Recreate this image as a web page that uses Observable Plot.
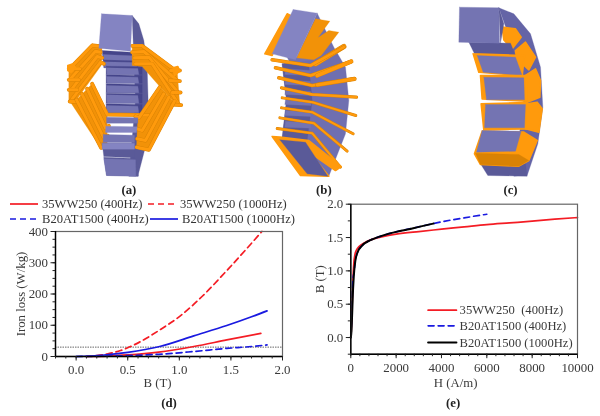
<!DOCTYPE html>
<html><head><meta charset="utf-8">
<script src="https://cdn.jsdelivr.net/npm/d3@7"></script>
<script src="https://cdn.jsdelivr.net/npm/@observablehq/plot@0.6"></script>
<style>
html,body{margin:0;padding:0;background:#fff;width:600px;height:416px;overflow:hidden;font-family:"Liberation Serif",serif;color:#333}
#page{position:relative;width:600px;height:416px;filter:blur(0.3px)}
#page>div{position:absolute}
.lg{position:absolute;display:flex;align-items:center;font-size:12.6px;white-space:nowrap;height:15px}
.lg svg{margin-right:4px;flex:none}
</style></head><body>
<div id="page">
<div id="art" style="left:0;top:0"></div>
<div id="legendD" style="left:0;top:197px;width:300px;height:29px"></div>
<div id="chartD" style="left:0;top:226px"></div>
<div id="chartE" style="left:300px;top:197px"></div>
</div>
<script>
// ---- Panel (d): iron loss vs B
const wwB400=[0.1,0.3,0.5,0.8,1.14,1.46,1.79];
const wwL400=[0,1.5,5,14,32,53,74];
const wwB1000=[0.1,0.2,0.3,0.43,0.62,0.81,1.01,1.22,1.48,1.8];
const wwL1000=[0,3,8,19,47,85,130,192,282,400];
const atB400=[0,0.25,0.5,0.8,1.14,1.46,1.7,1.85];
const atL400=[0,1,3,7,16,26,32,37];
const atB1000=[0,0.25,0.5,0.81,1.14,1.46,1.7,1.85];
const atL1000=[0,4,13,32,66,99,127,146];
// ---- Panel (e): B-H curves
const wwH=[0,20,40,60,80,100,130,180,250,350,500,700,1000,1500,2000,3000,4000,5000,6000,7000,8000,9000,10000];
const wwT=[0,0.1,0.3,0.5,0.7,0.9,1.1,1.24,1.31,1.36,1.4,1.44,1.48,1.52,1.55,1.59,1.625,1.66,1.695,1.72,1.745,1.775,1.8];
const at4H=[0,40,90,150,200,300,500,800,1000,2000,3000,3650,4000,5000,6000];
const at4T=[0,0.3,0.85,1.0,1.15,1.28,1.38,1.45,1.48,1.585,1.66,1.71,1.735,1.795,1.85];
const at10H=[0,30,60,90,120,150,200,300,500,800,1000,1500,2000,2500,3000,3650];
const at10T=[0,0.1,0.35,0.65,0.85,1.0,1.15,1.28,1.38,1.45,1.48,1.54,1.585,1.62,1.66,1.71];
const zip=(a,b)=>a.map((v,i)=>[v,b[i]]);
const serif="Liberation Serif";
const C={red:"#f41c24",blue:"#1a1ae0",black:"#000",ink:"#3a3a3a"};
const dash="6,4";

const lossSeries=[[wwB400,wwL400,C.red,null],[wwB1000,wwL1000,C.red,dash],[atB400,atL400,C.blue,dash],[atB1000,atL1000,C.blue,null]];
const lossLegend=[["35WW250 (400Hz)",C.red,null,10,204],["35WW250 (1000Hz)",C.red,dash,148,204],["B20AT1500 (400Hz)",C.blue,dash,10,219],["B20AT1500 (1000Hz)",C.blue,null,150,219]];

// legend of (d)
const lgEl=document.getElementById("legendD");
for(const [label,col,d,x,y] of lossLegend){
  const e=document.createElement("div");e.className="lg";e.style.left=x+"px";e.style.top=(y-197-7.5)+"px";
  e.innerHTML=`<svg width="28" height="6"><line x1="0" x2="28" y1="3" y2="3" stroke="${col}" stroke-width="1.7" ${d?`stroke-dasharray="${d}"`:""}/></svg><span>${label}</span>`;
  lgEl.appendChild(e);
}

function axes(xMajor,xMinor,yMajor,yMinor,xfmt,yfmt,xr,yr){
  return [
    Plot.frame({stroke:"#666",strokeWidth:1.2}),
    Plot.ruleX([xr],{stroke:"#000",strokeWidth:1.4}),
    Plot.ruleY([yr],{stroke:"#000",strokeWidth:1.4}),
    Plot.axisX({ticks:xMinor,tickSize:2.5,tickFormat:()=>"",label:null,stroke:"#222"}),
    Plot.axisY({ticks:yMinor,tickSize:2.5,tickFormat:()=>"",label:null,stroke:"#222"}),
    Plot.axisX({ticks:xMajor,tickSize:4.5,tickFormat:xfmt,label:null,tickPadding:4,fontSize:12.9,fill:C.ink,stroke:"#222"}),
    Plot.axisY({ticks:yMajor,tickSize:4.5,tickFormat:yfmt,label:null,tickPadding:3,fontSize:12.9,fill:C.ink,stroke:"#222"})
  ];
}
const label=(t,o)=>Plot.text([t],{text:d=>d,fontSize:12.8,fill:C.ink,lineAnchor:"middle",textAnchor:"middle",...o});

// chart (d)
const dTicksX=[0,0.5,1,1.5,2], dMinorX=d3.range(-2,21).map(v=>v/10);
const dTicksY=[0,100,200,300,400], dMinorY=d3.range(0,401,25);
document.getElementById("chartD").append(Plot.plot({
  width:300,height:190,marginLeft:55,marginRight:18,marginTop:5,marginBottom:60,
  style:{fontFamily:serif,background:"transparent",overflow:"visible"},
  x:{domain:[-0.2,2],label:null,axis:null},
  y:{domain:[0,400],label:null,axis:null},
  marks:[
    Plot.ruleY([30],{stroke:"#666",strokeDasharray:"1.5,1",strokeWidth:1}),
    ...lossSeries.map(([b,l,c,d])=>Plot.line(zip(b,l),{x:p=>p[0],y:p=>p[1],stroke:c,strokeWidth:1.7,strokeDasharray:d,curve:"monotone-x"})),
    ...axes(dTicksX,dMinorX,dTicksY,dMinorY,d3.format(".1f"),d3.format("d"),-0.2,0),
    label("B (T)",{frameAnchor:"bottom",dy:26.5,dx:-11.5}),
    label("Iron loss (W/kg)",{frameAnchor:"left",dx:-35,rotate:-90}),
    label("(d)",{frameAnchor:"bottom",dy:46.5,fontWeight:"bold",fill:"#222"})
  ]
}));

// chart (e)
const eTicksX=[0,2000,4000,6000,8000,10000], eMinorX=d3.range(0,10001,400);
const eTicksY=[0,0.5,1,1.5,2], eMinorY=[-0.25,0,0.25,0.5,0.75,1,1.25,1.5,1.75,2];
const bhSeries=[[wwH,wwT,C.red,null,1.7],[at4H,at4T,C.blue,dash,1.6],[at10H,at10T,C.black,null,2]];
const bhLegend=[["35WW250  (400Hz)",C.red,null,1.7,0.41],["B20AT1500 (400Hz)",C.blue,dash,1.6,0.175],["B20AT1500 (1000Hz)",C.black,null,2,-0.075]];
document.getElementById("chartE").append(Plot.plot({
  width:300,height:219,marginLeft:50.3,marginRight:23,marginTop:6.7,marginBottom:62.3,
  style:{fontFamily:serif,background:"transparent",overflow:"visible"},
  x:{domain:[0,10000],label:null,axis:null},
  y:{domain:[-0.25,2],label:null,axis:null},
  marks:[
    ...bhSeries.map(([h,t,c,d,w])=>Plot.line(zip(h,t),{x:p=>p[0],y:p=>p[1],stroke:c,strokeWidth:w,strokeDasharray:d,curve:"monotone-x"})),
    ...bhLegend.map(([lab,c,d,w,yv])=>Plot.line([[3410,yv],[4660,yv]],{x:p=>p[0],y:p=>p[1],stroke:c,strokeWidth:w,strokeDasharray:d})),
    Plot.text(bhLegend,{x:()=>4800,y:d=>d[4],text:d=>d[0],textAnchor:"start",lineAnchor:"middle",fontSize:12.6,fill:C.ink}),
    ...axes(eTicksX,eMinorX,eTicksY,eMinorY,d3.format("d"),d3.format(".1f"),0,-0.25),
    label("H (A/m)",{frameAnchor:"bottom",dy:29,dx:-8.6}),
    label("B (T)",{frameAnchor:"left",dx:-31,rotate:-90,dy:0}),
    label("(e)",{frameAnchor:"bottom",dy:49,dx:-11,fontWeight:"bold",fill:"#222"})
  ]
}));

// ---- Illustrations (a), (b), (c): schematic shapes in picture units (3 per pixel)
const V1="#8484c2",V2="#7474b2",V3="#5a5a98",V4="#45458a",O1="#ff9a0c",O2="#d98204",O3="#f29208";
const poly=(c,...p)=>({c,p});
const wire=(w,...p)=>({c:O1,w,p});
const shift=(list,dx,dy)=>list.map(s=>({...s,p:s.p.map(([x,y])=>[x+dx,y+dy])}));
const teethA=[[112,132],[138,158],[165,187],[193,218],[225,247]];
const artA=shift([
  poly(V3,[215,-45],[235,-20],[250,30],[260,110],[264,250],[252,360],[232,437],[205,437],[225,210]),
  poly(V4,[125,60],[212,65],[232,112],[130,112]),
  poly(V2,[128,72],[215,76],[222,90],[130,88]),
  poly(V2,[130,94],[224,96],[230,112],[132,110]),
  ...teethA.map(([a,b])=>poly(V4,[137,a-5],[245,a-3],[245,b],[137,b])),
  ...teethA.map(([a,b])=>poly(V2,[138,a],[232,a+2],[235,b],[140,b])),
  poly(O3,[95,40],[25,110],[25,216],[48,208],[122,105],[125,45]),
  poly(O3,[30,215],[122,355],[140,345],[140,252],[95,160],[48,208]),
  poly(O3,[245,42],[350,120],[358,225],[330,205],[245,108],[215,105],[215,45]),
  poly(O3,[345,215],[265,360],[228,352],[232,258],[300,170],[330,205]),
  wire(9,[120,47],[95,45],[30,112]),wire(9,[120,65],[105,62],[30,145]),wire(9,[125,82],[110,78],[32,178]),wire(9,[130,100],[120,95],[30,212]),
  wire(9,[25,115],[58,115]),wire(9,[25,148],[55,148]),wire(9,[25,178],[50,178]),wire(9,[28,213],[48,213]),
  wire(9,[48,208],[122,352],[140,345]),wire(9,[64,190],[130,322],[142,316]),wire(9,[80,175],[135,292],[145,286]),wire(9,[95,160],[140,252],[270,254]),
  wire(9,[215,46],[245,46],[345,120]),wire(9,[215,65],[250,63],[350,150]),wire(9,[222,82],[265,80],[352,185]),wire(9,[225,100],[275,100],[355,222]),
  wire(9,[330,120],[358,120]),wire(9,[328,150],[358,152]),wire(9,[335,186],[360,186]),wire(9,[335,222],[362,224]),
  wire(9,[342,212],[265,358],[228,350]),wire(9,[325,200],[255,330],[230,325]),wire(9,[310,190],[245,300],[230,295]),wire(9,[298,170],[235,262],[225,258]),
  poly(O1,[22,105],[38,100],[45,112],[32,125],[22,120]),poly(O1,[338,112],[352,108],[358,122],[342,135]),
  poly(V2,[138,260],[232,262],[232,278],[138,278]),
  poly(V1,[136,287],[230,289],[228,306],[135,306]),
  poly(V2,[128,312],[222,314],[222,336],[128,336]),
  poly(V3,[125,338],[222,338],[222,382],[130,378]),
  poly(V1,[125,338],[222,338],[222,356],[125,356]),
  poly(V3,[130,380],[225,384],[234,437],[138,435]),
  poly(V2,[130,385],[225,388],[226,437],[138,435]),
  poly(V1,[123,-50],[215,-45],[210,62],[115,53])
],180,90);
const artB=[
  poly("#6f6fb0",[950,38],[1000,140],[1035,200],[1045,300],[1035,400],[985,527],[920,520],[845,420],[858,300],[845,190],[885,178]),
  poly(V3,[845,190],[925,195],[935,300],[920,420],[845,410],[858,300]),
  ...[[205,222],[238,252],[268,282],[298,312],[330,345],[362,380]].map(([a,b])=>poly(V2,[855,a],[930,a+5],[932,b+3],[853,b])),
  poly(V2,[860,170],[920,172],[935,178],[870,190]),
  poly(O3,[945,55],[988,62],[952,112],[985,90],[1015,95],[962,165],[940,178],[888,172]),
  wire(13,[945,190],[1030,138]),
  wire(8,[815,178],[930,195],[1030,140]),wire(8,[825,202],[930,225],[1052,183]),wire(11,[950,225],[1052,183]),wire(8,[835,232],[935,255],[1062,235]),wire(10,[950,253],[1062,235]),wire(7,[843,262],[935,282],[1068,290]),
  wire(6,[845,292],[935,305],[1066,345]),wire(6,[843,322],[935,335],[1058,400]),wire(6,[838,352],[940,368],[1040,452]),wire(6,[830,384],[935,398],[1020,500]),
  poly(O1,[860,40],[870,45],[815,165],[793,160]),
  poly(V1,[878,27],[950,38],[885,178],[815,160]),
  poly(O1,[815,408],[838,410],[925,420],[1022,498],[1005,510],[930,458],[985,527],[900,525]),
  poly(V3,[838,418],[915,425],[982,527],[920,520])
];
const artC=shift([
  poly("#6464a6",[295,22],[340,40],[390,100],[420,200],[427,320],[412,430],[380,525],[340,527],[370,300],[330,120]),
  poly(V3,[240,490],[375,490],[380,527],[262,525]),
  poly(O1,[305,80],[345,85],[362,110],[335,145],[310,118]),
  poly(O1,[345,150],[375,125],[405,170],[385,208],[345,170]),
  poly(O1,[375,225],[405,205],[420,240],[418,290],[380,305]),
  poly(O1,[380,310],[410,305],[425,325],[415,395],[375,385]),
  poly(V3,[205,125],[330,128],[345,165],[222,160]),
  poly(O1,[218,160],[372,165],[365,225],[235,215]),
  poly(V2,[230,165],[345,170],[365,225],[248,215]),
  poly(O1,[240,225],[378,225],[378,302],[245,295]),
  poly(V2,[250,230],[370,232],[372,298],[258,298]),
  poly(O1,[242,310],[380,306],[380,385],[250,388]),
  poly(V2,[255,312],[375,312],[372,382],[252,382]),
  poly(O1,[245,392],[370,395],[410,420],[385,480],[355,497],[240,492],[222,460]),
  poly(O2,[225,458],[355,462],[385,480],[355,497],[240,492]),
  poly(V2,[245,390],[362,392],[345,452],[228,455]),
  poly(V2,[177,20],[295,22],[297,128],[175,125]),
  poly(V3,[295,22],[310,70],[300,128])
],1200,0);
const artLabels=[["(a)",385],["(b)",970],["(c)",1530]];
const artMarks=[...artA,...artB,...artC].flatMap(s=>s.w
  ? [Plot.line(s.p,{x:d=>d[0],y:d=>d[1],stroke:O2,strokeWidth:s.w/3+0.9,strokeLinejoin:"round"}),
     Plot.line(s.p,{x:d=>d[0],y:d=>d[1],stroke:O1,strokeWidth:s.w/3,strokeLinejoin:"round"})]
  : [Plot.line(s.p.concat([s.p[0]]),{x:d=>d[0],y:d=>d[1],fill:s.c,stroke:s.c,strokeWidth:s.c===O1?1.6:0.3,strokeLinejoin:"round"})]);
document.getElementById("art").append(Plot.plot({
  width:600,height:197,margin:0,
  style:{fontFamily:serif,background:"transparent"},
  x:{domain:[0,1800],axis:null},
  y:{domain:[591,0],axis:null},
  marks:[...artMarks,
    Plot.text(artLabels,{x:d=>d[1],y:()=>567,text:d=>d[0],fontSize:12.8,fontWeight:"bold",fill:"#222",lineAnchor:"middle"})
  ]
}));
</script></body></html>
